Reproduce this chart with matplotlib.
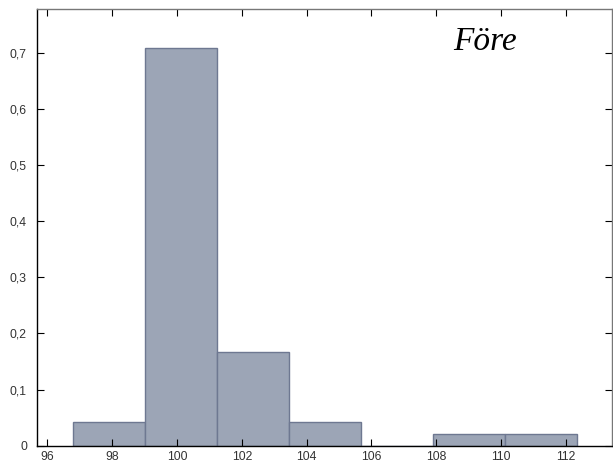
import matplotlib
matplotlib.use("Agg")
import matplotlib.pyplot as plt
import numpy as np

# Data (relative frequencies, n = 48)
bin_edges = [96.80, 99.02, 101.24, 103.46, 105.68, 107.90, 110.12, 112.34]
rel_freq = [2/48, 34/48, 8/48, 2/48, 0.0, 1/48, 1/48]
x_ticks = [96, 98, 100, 102, 104, 106, 108, 110, 112]
y_ticks = [0, 0.1, 0.2, 0.3, 0.4, 0.5, 0.6, 0.7]
y_tick_labels = ["0", "0,1", "0,2", "0,3", "0,4", "0,5", "0,6", "0,7"]
title_text = "Före"

plt.rcParams['font.family'] = ['Liberation Sans', 'DejaVu Sans']

fig = plt.figure(figsize=(6.13, 4.65), dpi=100)
ax = fig.add_axes([37.3/613, (465-445.7)/465, (612-37.3)/613, (445.7-9)/465])

edges = np.array(bin_edges)
widths = np.diff(edges)
ax.bar(edges[:-1], rel_freq, width=widths, align='edge',
       facecolor='#9ca5b6', edgecolor='#6e7891', linewidth=1.0)

ax.set_xlim(95.69, 113.42)
ax.set_ylim(0, 0.778)
ax.set_xticks(x_ticks)
ax.set_xticklabels([str(t) for t in x_ticks])
ax.set_yticks(y_ticks)
ax.set_yticklabels(y_tick_labels)

ax.tick_params(direction='in', length=5, width=0.8, labelsize=8.8,
               labelcolor='#333333', top=True, right=True,
               labeltop=False, labelright=False)
ax.tick_params(axis='x', pad=3.5)
ax.tick_params(axis='y', pad=7.5)

ax.spines['left'].set_color('black')
ax.spines['bottom'].set_color('black')
ax.spines['top'].set_color('#777777')
ax.spines['right'].set_color('#777777')
for s in ax.spines.values():
    s.set_linewidth(1.0)

fig.text(453/613, (465-50)/465, title_text, family=['Liberation Serif', 'DejaVu Serif'],
         style='italic', fontsize=24, ha='left', va='baseline', color='black')

fig.savefig("out.png", dpi=100)
